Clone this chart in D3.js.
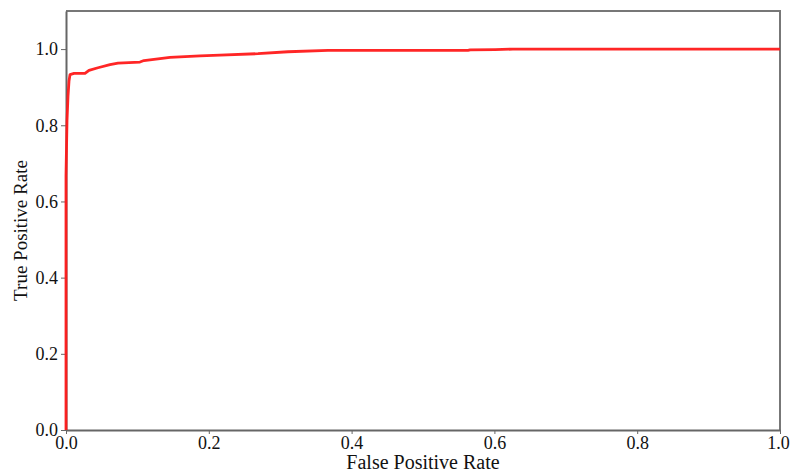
<!DOCTYPE html>
<html>
<head>
<meta charset="utf-8">
<script src="https://cdn.jsdelivr.net/npm/d3@7"></script>
<style>
  body { margin: 0; background: #fff; }
  svg { display: block; }
  svg text { font-family: "Liberation Serif", "DejaVu Serif", serif; }
</style>
</head>
<body>
<div id="chart"></div>
<script>
// ROC curve points
const fpr = [0, 0, 0.0014, 0.0028, 0.0042, 0.0056, 0.0112, 0.0266, 0.0322, 0.0448, 0.0616, 0.0728,
  0.1036, 0.1092, 0.1317, 0.1457, 0.1877, 0.2157, 0.2689, 0.3109, 0.3669, 0.563, 0.566, 0.601, 0.626, 1.0];
const tpr = [0, 0.668, 0.812, 0.877, 0.916, 0.933, 0.936, 0.936, 0.944, 0.951, 0.959, 0.963,
  0.966, 0.970, 0.975, 0.978, 0.982, 0.984, 0.988, 0.993, 0.9966, 0.9966, 0.998, 0.9987, 1.0, 1.0];
const xTicks = [0, 0.2, 0.4, 0.6, 0.8, 1.0];
const yTicks = [0, 0.2, 0.4, 0.6, 0.8, 1.0];

const serif = '"Liberation Serif", "DejaVu Serif", serif';
const width = 790, height = 476;
const margin = { top: 11, right: 10, bottom: 46, left: 66 };
const w = width - margin.left - margin.right;
const h = height - margin.top - margin.bottom;

const svg = d3.select('#chart').append('svg')
  .attr('width', width)
  .attr('height', height)
  .attr('font-family', serif);

const g = svg.append('g')
  .attr('transform', `translate(${margin.left},${margin.top})`);

const x = d3.scaleLinear().domain([0, 1]).range([0, w]);
const y = d3.scaleLinear().domain([0, 1.1]).range([h, 0]);

// frame (top and right)
g.append('path')
  .attr('d', `M0,0H${w}V${h}`)
  .attr('fill', 'none')
  .attr('stroke', '#777')
  .attr('stroke-width', 2);

const xAxis = g.append('g')
  .attr('transform', `translate(0,${h})`)
  .call(d3.axisBottom(x).tickValues(xTicks).tickFormat(d3.format('.1f')).tickSize(4).tickPadding(2).tickSizeOuter(0));

const yAxis = g.append('g')
  .call(d3.axisLeft(y).tickValues(yTicks).tickFormat(d3.format('.1f')).tickSize(5).tickPadding(3).tickSizeOuter(0));

[xAxis, yAxis].forEach(a => {
  a.attr('font-family', serif).attr('font-size', 18);
  a.selectAll('.domain').attr('stroke', '#666').attr('stroke-width', 2);
  a.selectAll('.tick line').attr('stroke', '#666').attr('stroke-width', 1);
  a.selectAll('text').attr('fill', '#111');
});
// last x label sits on the edge; nudge it in a little
xAxis.selectAll('.tick text').filter(d => d === 1).attr('dx', -2);

const pts = fpr.map((d, i) => [d, tpr[i]]);
const line = d3.line().x(d => x(d[0])).y(d => y(d[1]));

g.append('path')
  .datum(pts)
  .attr('d', line)
  .attr('fill', 'none')
  .attr('stroke', '#ff1a1a')
  .attr('stroke-opacity', 0.95)
  .attr('stroke-width', 2.8)
  .attr('stroke-linejoin', 'round');

// axis titles
svg.append('text')
  .attr('x', margin.left + w / 2)
  .attr('y', 469)
  .attr('text-anchor', 'middle')
  .attr('font-size', 20)
  .attr('fill', '#111')
  .text('False Positive Rate');

svg.append('text')
  .attr('transform', `translate(27,${margin.top + h / 2 + 10}) rotate(-90)`)
  .attr('text-anchor', 'middle')
  .attr('font-size', 19)
  .attr('fill', '#111')
  .text('True Positive Rate');
</script>
</body>
</html>
